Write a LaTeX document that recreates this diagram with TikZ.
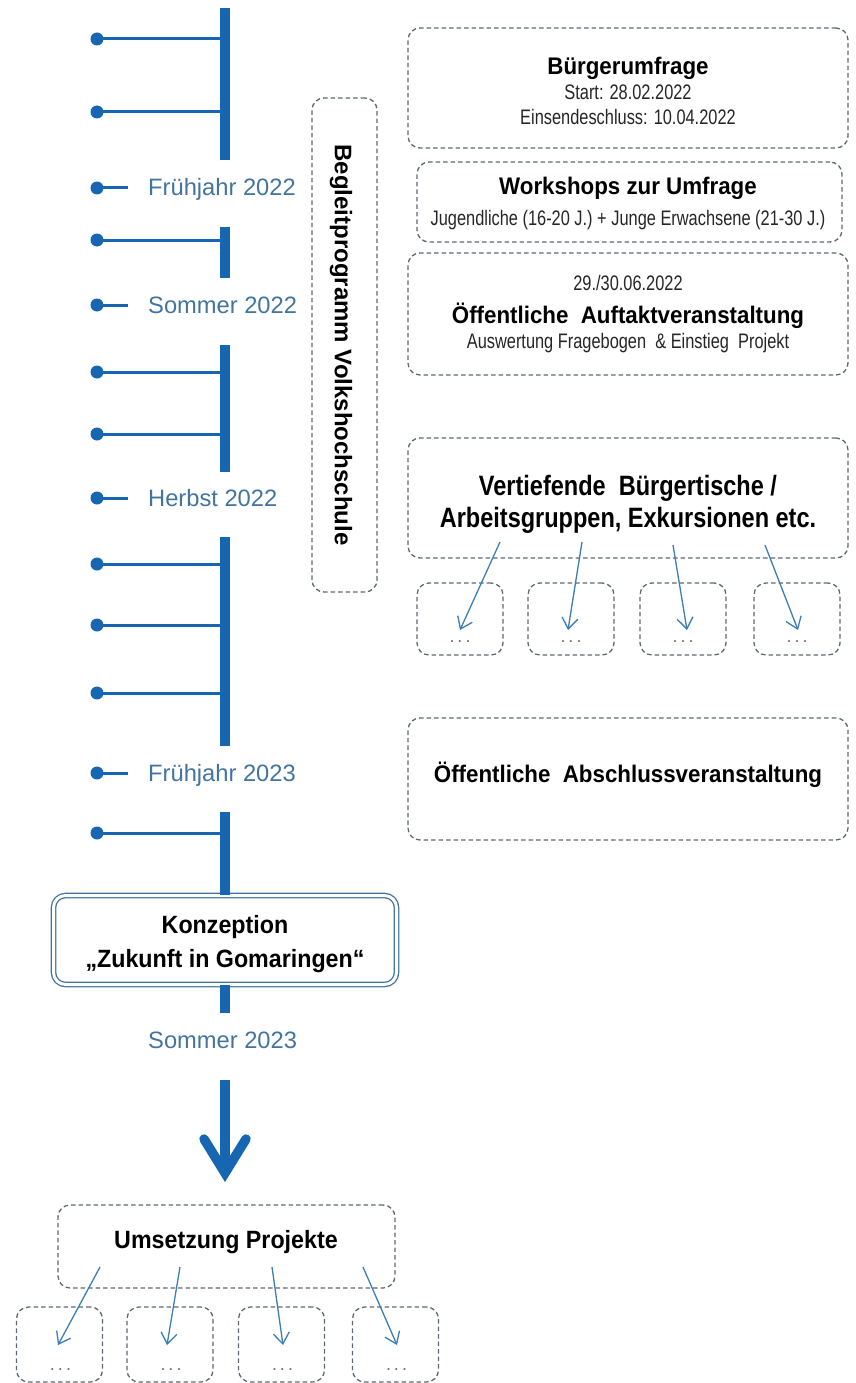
\documentclass[tikz,border=0pt]{standalone}
\usepackage{fontspec}
\setmainfont{Liberation Sans}
\newfontfamily\ttlfont{Liberation Sans}[FakeStretch=0.93]
\newfontfamily\bigfont{Liberation Sans}[FakeStretch=0.84]
\newfontfamily\smfont{Liberation Sans}[FakeStretch=0.78]
\usetikzlibrary{arrows.meta}
\definecolor{tlblue}{RGB}{22,102,178}
\definecolor{labblue}{RGB}{66,116,158}
\definecolor{dashgray}{RGB}{95,105,115}
\definecolor{arrblue}{RGB}{60,125,180}
\definecolor{dotgray}{RGB}{120,110,100}
\begin{document}
\begin{tikzpicture}[x=1pt,y=-1pt,
  bar/.style={line width=10pt,draw=tlblue},
  branch/.style={line width=3pt,draw=tlblue},
  dotnode/.style={circle,fill=tlblue,inner sep=0pt,minimum size=13pt},
  seas/.style={anchor=base west,inner sep=0pt,text=labblue,font=\fontsize{23.7}{28}\selectfont},
  dbox/.style={draw=dashgray,line width=1.3pt,dash pattern=on 4.5pt off 3pt,rounded corners=12pt,inner sep=0pt,fill=white},
  ttl/.style={anchor=base,inner sep=0pt,font=\ttlfont\bfseries\fontsize{24}{28}\selectfont},
  bigttl/.style={anchor=base,inner sep=0pt,font=\bigfont\bfseries\fontsize{28}{32}\selectfont},
  sub/.style={anchor=base,inner sep=0pt,text=black!85,font=\smfont\fontsize{21}{24}\selectfont},
  thinarr/.style={draw=arrblue,line width=1.3pt,-{Straight Barb[length=11pt,width=16pt]}},
  dots/.style={anchor=base,inner sep=0pt,text=dotgray,font=\fontsize{18}{20}\selectfont},
  konzbox/.style={draw=labblue,line width=1.3pt,double=white,double distance=3pt,rounded corners=12pt,fill=white,inner sep=0pt}
]
\path[use as bounding box] (0,0) rectangle (856,1383);

% ---------- timeline bar segments ----------
\coordinate (s1t) at (225,8);   \coordinate (s1b) at (225,160);
\coordinate (s2t) at (225,227); \coordinate (s2b) at (225,278);
\coordinate (s3t) at (225,345); \coordinate (s3b) at (225,472);
\coordinate (s4t) at (225,537); \coordinate (s4b) at (225,746);
\coordinate (s5t) at (225,812);
\draw[bar] (s1t) -- (s1b);
\draw[bar] (s2t) -- (s2b);
\draw[bar] (s3t) -- (s3b);
\draw[bar] (s4t) -- (s4b);

% ---------- branches ----------
\foreach \i/\y in {1/39,2/112,3/240,4/372,5/434,6/564,7/625,8/693,9/833}{
  \node[dotnode] (d\i) at (97,\y) {};
  \coordinate (j\i) at (225,\y);
  \draw[branch] (d\i.center) -- (j\i);
}

% ---------- seasons ----------
\foreach \i/\y/\t in {1/188/Frühjahr 2022,2/305/Sommer 2022,3/498/Herbst 2022,4/773/Frühjahr 2023}{
  \node[dotnode] (sd\i) at (97,\y) {};
  \coordinate (st\i) at (128,\y);
  \draw[branch] (sd\i.center) -- (st\i);
  \node[seas] (sl\i) at (148,\y+8) {\t};
}
\node[seas] (sl5) at (148,1048) {Sommer 2023};

% ---------- Konzeption ----------
\node[konzbox,minimum width=343pt,minimum height=89pt] (konz) at (225,940) {};
\draw[bar] (s5t) -- (konz.north);
\coordinate (s6b) at (225,1013);
\draw[bar] (konz.south) -- (s6b);
\node[ttl,font=\ttlfont\bfseries\fontsize{25}{28}\selectfont] (konz1) at (225,933) {Konzeption};
\node[ttl,font=\ttlfont\bfseries\fontsize{25}{28}\selectfont] (konz2) at (225,967) {„Zukunft in Gomaringen“};

% ---------- big arrow ----------
\coordinate (ar1) at (225,1080);
\coordinate (ar2) at (225,1168);
\coordinate (arl) at (204,1139);
\coordinate (arr) at (246,1139);
\draw[bar] (ar1) -- (ar2);
\draw[bar,line width=9.5pt,line cap=round,miter limit=10] (arl) -- (225,1173) -- (arr);

% ---------- Begleitprogramm ----------
\node[dbox,minimum width=65pt,minimum height=494pt] (begl) at (344.5,345) {};
\node[inner sep=0pt,rotate=-90,font=\bfseries\fontsize{24}{28}\selectfont] (begltxt) at (341,345) {Begleitprogramm Volkshochschule};

% ---------- right column ----------
\node[dbox,minimum width=440pt,minimum height=120pt] (b1) at (628,88) {};
\node[ttl] (b1a) at (628,75) {Bürgerumfrage};
\node[sub] (b1b) at (628,100) {Start: 28.02.2022};
\node[sub] (b1c) at (628,125) {Einsendeschluss: 10.04.2022};

\node[dbox,minimum width=425pt,minimum height=80pt] (b2) at (629.5,202) {};
\node[ttl] (b2a) at (628,194) {Workshops zur Umfrage};
\node[sub] (b2b) at (628,225) {Jugendliche (16-20 J.) + Junge Erwachsene (21-30 J.)};

\node[dbox,minimum width=440pt,minimum height=122pt] (b3) at (628,314) {};
\node[sub] (b3a) at (628,290) {29./30.06.2022};
\node[ttl] (b3b) at (628,323) {Öffentliche\ \ Auftaktveranstaltung};
\node[sub] (b3c) at (628,348) {Auswertung Fragebogen\ \ \& Einstieg\ \ Projekt};

\node[dbox,minimum width=440pt,minimum height=120pt] (b4) at (628,498) {};
\node[bigttl] (b4a) at (628,495) {Vertiefende\ \ Bürgertische /};
\node[bigttl] (b4b) at (628,527) {Arbeitsgruppen, Exkursionen etc.};

\foreach \i/\x in {1/460,2/571,3/683,4/797}{
  \node[dbox,minimum width=86pt,minimum height=72pt] (t\i) at (\x,619) {};
  \node[dots] (td\i) at (\x,642) {.\,.\,.};
}
\coordinate (ta1) at (500,542); \coordinate (te1) at (460,630);
\coordinate (ta2) at (582,542); \coordinate (te2) at (568,630);
\coordinate (ta3) at (673,545); \coordinate (te3) at (687,630);
\coordinate (ta4) at (765,545); \coordinate (te4) at (798,630);
\foreach \i in {1,2,3,4}{\draw[thinarr] (ta\i) -- (te\i);}

\node[dbox,minimum width=440pt,minimum height=122pt] (b5) at (628,779) {};
\node[ttl] (b5a) at (628,782) {Öffentliche\ \ Abschlussveranstaltung};

% ---------- Umsetzung ----------
\node[dbox,minimum width=337pt,minimum height=83pt] (ums) at (226.5,1246.5) {};
\node[ttl,font=\ttlfont\bfseries\fontsize{25}{28}\selectfont] (umsa) at (226,1248) {Umsetzung Projekte};
\foreach \i/\x in {1/59.5,2/170,3/281.5,4/395.5}{
  \node[dbox,minimum width=86pt,minimum height=75pt] (u\i) at (\x,1344.5) {};
  \node[dots] (ud\i) at (\x+1,1370) {.\,.\,.};
}
\coordinate (ua1) at (100,1267); \coordinate (ue1) at (58,1345);
\coordinate (ua2) at (180,1267); \coordinate (ue2) at (167,1345);
\coordinate (ua3) at (272,1267); \coordinate (ue3) at (283,1345);
\coordinate (ua4) at (363,1267); \coordinate (ue4) at (397,1345);
\foreach \i in {1,2,3,4}{\draw[thinarr] (ua\i) -- (ue\i);}
\end{tikzpicture}
\end{document}
